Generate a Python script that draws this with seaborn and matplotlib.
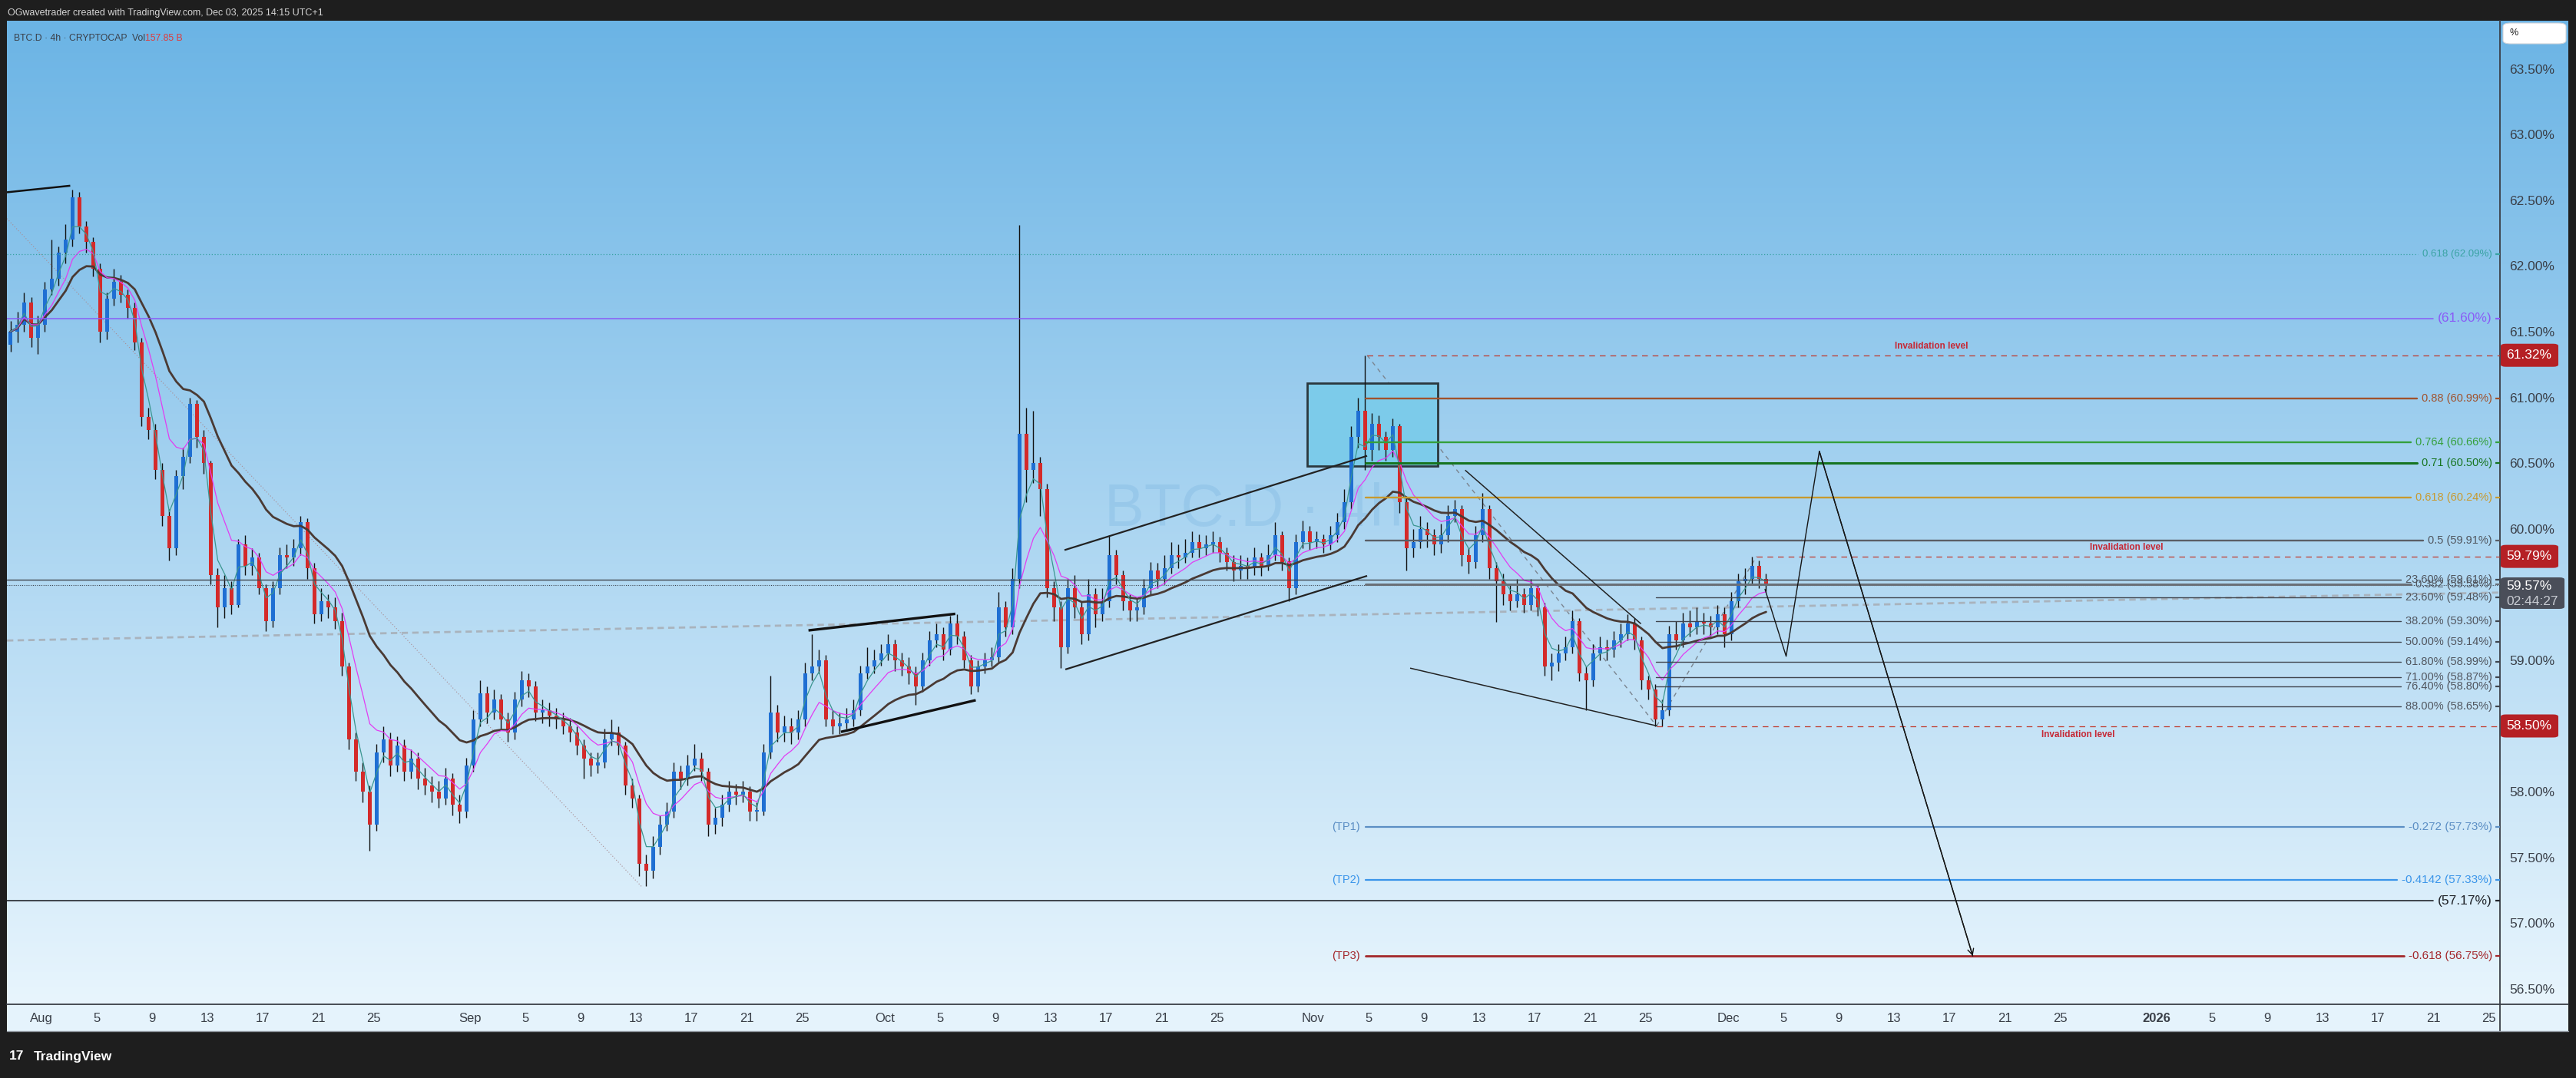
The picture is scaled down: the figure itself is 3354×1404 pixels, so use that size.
import numpy as np
import pandas as pd
import matplotlib
matplotlib.use("Agg")
import matplotlib.pyplot as plt
import seaborn as sns
from matplotlib.patches import Rectangle, FancyBboxPatch
from matplotlib.lines import Line2D

sns.set_theme(style="white")
plt.rcParams['font.family'] = ['Liberation Sans', 'DejaVu Sans']

# ------------------------------------------------------------------ data
AUG1 = pd.Timestamp("2025-08-01")
candle_start = "2025-07-29 12:00"      # 12h candles
first_open = 61.40
closes = [
    61.50, 61.55, 61.72, 61.45, 61.55, 61.82, 61.90, 62.10, 62.20, 62.52,
    62.30, 62.18, 61.98, 61.50, 61.75, 61.88, 61.78, 61.68, 61.42, 60.85,
    60.75, 60.45, 60.10, 59.85, 60.40, 60.55, 60.95, 60.70, 60.50, 59.65,
    59.40, 59.55, 59.42, 59.88, 59.72, 59.78, 59.55, 59.30, 59.55, 59.80,
    59.78, 59.85, 60.05, 59.70, 59.35, 59.45, 59.40, 59.30, 58.95, 58.40,
    58.15, 58.00, 57.75, 58.30, 58.40, 58.20, 58.35, 58.15, 58.25, 58.10,
    58.05, 58.00, 57.95, 58.10, 57.90, 57.85, 58.20, 58.55, 58.75, 58.60,
    58.70, 58.55, 58.45, 58.70, 58.85, 58.80, 58.60, 58.62, 58.58, 58.55,
    58.50, 58.45, 58.35, 58.25, 58.20, 58.22, 58.40, 58.45, 58.35, 58.05,
    57.95, 57.45, 57.40, 57.58, 57.75, 57.85, 58.15, 58.10, 58.20, 58.25,
    58.15, 57.75, 57.80, 57.90, 58.00, 57.98, 58.00, 57.85, 57.85, 58.30,
    58.60, 58.45, 58.50, 58.45, 58.55, 58.90, 58.95, 59.00, 58.55, 58.50,
    58.52, 58.55, 58.62, 58.90, 58.95, 59.00, 59.05, 59.12, 59.00, 58.95,
    58.90, 58.80, 59.00, 59.15, 59.20, 59.08, 59.28, 59.18, 59.00, 58.80,
    58.95, 59.00, 59.02, 59.40, 59.25, 59.62, 60.72, 60.45, 60.50, 60.30,
    59.55, 59.40, 59.10, 59.55, 59.40, 59.20, 59.50, 59.35, 59.45, 59.80,
    59.65, 59.45, 59.38, 59.40, 59.55, 59.68, 59.62, 59.70, 59.80, 59.78,
    59.82, 59.90, 59.85, 59.88, 59.90, 59.82, 59.75, 59.68, 59.72, 59.70,
    59.78, 59.72, 59.80, 59.95, 59.75, 59.55, 59.90, 59.98, 59.90, 59.92,
    59.88, 59.95, 60.05, 60.20, 60.70, 60.90, 60.60, 60.80, 60.70, 60.60,
    60.78, 60.20, 59.85, 59.90, 60.00, 59.95, 59.88, 59.95, 60.10, 60.15,
    59.80, 59.75, 59.95, 60.15, 59.70, 59.60, 59.50, 59.45, 59.50, 59.42,
    59.55, 59.40, 58.95, 58.98, 59.05, 59.10, 59.30, 58.90, 58.85, 59.05,
    59.10, 59.08, 59.15, 59.20, 59.28, 59.15, 58.85, 58.78, 58.55, 58.62,
    59.20, 59.15, 59.28, 59.25, 59.30, 59.28, 59.25, 59.35, 59.20, 59.45,
    59.60, 59.62, 59.72, 59.62, 59.57,
]
highs = [
    61.58, 61.65, 61.80, 61.76, 61.62, 61.88, 62.20, 62.15, 62.32, 62.58,
    62.56, 62.34, 62.22, 62.02, 61.80, 61.98, 61.93, 61.82, 61.72, 61.45,
    60.92, 60.80, 60.50, 60.15, 60.45, 60.62, 61.00, 60.98, 60.75, 60.52,
    59.70, 59.65, 59.60, 59.92, 59.95, 59.85, 59.82, 59.58, 59.60, 59.86,
    59.88, 59.92, 60.10, 60.08, 59.74, 59.55, 59.50, 59.48, 59.36, 58.98,
    58.45, 58.22, 58.05, 58.36, 58.50, 58.45, 58.42, 58.40, 58.32, 58.30,
    58.18, 58.12, 58.08, 58.18, 58.14, 57.98, 58.26, 58.62, 58.85, 58.80,
    58.78, 58.74, 58.60, 58.76, 58.92, 58.90, 58.84, 58.70, 58.68, 58.64,
    58.60, 58.56, 58.50, 58.40, 58.30, 58.30, 58.48, 58.55, 58.50, 58.38,
    58.10, 57.98, 57.52, 57.66, 57.82, 57.92, 58.22, 58.20, 58.28, 58.36,
    58.30, 58.18, 57.88, 57.98, 58.08, 58.06, 58.08, 58.04, 57.92, 58.36,
    58.88, 58.66, 58.58, 58.56, 58.62, 58.98, 59.20, 59.08, 59.04, 58.62,
    58.60, 58.64, 58.70, 58.96, 59.10, 59.08, 59.12, 59.20, 59.16, 59.06,
    59.02, 58.95, 59.06, 59.22, 59.28, 59.25, 59.34, 59.35, 59.22, 59.04,
    59.00, 59.06, 59.10, 59.52, 59.45, 59.70, 62.31, 60.92, 60.90, 60.55,
    60.34, 59.60, 59.45, 59.62, 59.65, 59.45, 59.62, 59.55, 59.55, 59.95,
    59.84, 59.68, 59.50, 59.48, 59.62, 59.75, 59.74, 59.80, 59.90, 59.88,
    59.92, 59.98, 59.96, 59.95, 59.98, 59.94, 59.86, 59.80, 59.80, 59.78,
    59.86, 59.82, 59.88, 60.05, 59.98, 59.78, 59.96, 60.06, 60.02, 59.98,
    59.96, 60.02, 60.12, 60.30, 60.78, 61.00, 61.32, 60.88, 60.86, 60.74,
    60.84, 60.80, 60.25, 60.00, 60.10, 60.05, 60.00, 60.04, 60.18, 60.22,
    60.18, 59.85, 60.02, 60.27, 60.18, 59.75, 59.66, 59.58, 59.62, 59.55,
    59.62, 59.58, 59.44, 59.05, 59.12, 59.18, 59.38, 59.32, 58.95, 59.12,
    59.18, 59.16, 59.22, 59.28, 59.35, 59.32, 59.18, 58.88, 58.82, 58.70,
    59.26, 59.30, 59.36, 59.38, 59.40, 59.36, 59.34, 59.42, 59.40, 59.52,
    59.66, 59.70, 59.79, 59.76, 59.66,
]
lows = [
    61.35, 61.42, 61.50, 61.38, 61.33, 61.50, 61.78, 61.85, 62.02, 62.15,
    62.25, 62.10, 61.92, 61.42, 61.44, 61.70, 61.72, 61.60, 61.36, 60.78,
    60.68, 60.38, 60.02, 59.76, 59.80, 60.30, 60.50, 60.62, 60.42, 59.58,
    59.25, 59.32, 59.35, 59.40, 59.65, 59.65, 59.50, 59.22, 59.25, 59.50,
    59.70, 59.72, 59.80, 59.62, 59.28, 59.30, 59.32, 59.24, 58.88, 58.32,
    58.08, 57.92, 57.55, 57.70, 58.22, 58.12, 58.15, 58.08, 58.10, 58.02,
    57.98, 57.92, 57.88, 57.90, 57.82, 57.76, 57.80, 58.15, 58.50, 58.52,
    58.55, 58.48, 58.38, 58.40, 58.65, 58.72, 58.54, 58.52, 58.50, 58.48,
    58.44, 58.38, 58.28, 58.10, 58.12, 58.14, 58.18, 58.35, 58.28, 57.98,
    57.88, 57.36, 57.28, 57.34, 57.52, 57.70, 57.80, 58.02, 58.05, 58.16,
    58.08, 57.66, 57.68, 57.74, 57.85, 57.90, 57.92, 57.78, 57.78, 57.82,
    58.25, 58.38, 58.38, 58.36, 58.40, 58.50, 58.85, 58.90, 58.50, 58.44,
    58.44, 58.48, 58.50, 58.58, 58.86, 58.90, 58.96, 59.00, 58.92, 58.88,
    58.82, 58.66, 58.76, 58.96, 59.10, 59.00, 59.04, 59.12, 58.94, 58.74,
    58.76, 58.90, 58.95, 58.98, 59.18, 59.20, 59.55, 60.20, 60.35, 60.10,
    59.48, 59.30, 58.94, 59.05, 59.32, 59.12, 59.15, 59.25, 59.30, 59.40,
    59.58, 59.38, 59.30, 59.30, 59.35, 59.50, 59.55, 59.58, 59.66, 59.70,
    59.74, 59.78, 59.78, 59.80, 59.82, 59.75, 59.68, 59.60, 59.62, 59.62,
    59.65, 59.64, 59.68, 59.76, 59.68, 59.45, 59.50, 59.85, 59.84, 59.85,
    59.82, 59.84, 59.90, 60.00, 60.15, 60.62, 60.45, 60.52, 60.60, 60.52,
    60.55, 60.12, 59.68, 59.78, 59.85, 59.86, 59.80, 59.82, 59.90, 60.05,
    59.72, 59.66, 59.70, 59.90, 59.62, 59.29, 59.42, 59.38, 59.40, 59.36,
    59.38, 59.34, 58.88, 58.85, 58.92, 59.00, 59.05, 58.84, 58.62, 58.80,
    59.00, 59.00, 59.02, 59.10, 59.15, 59.08, 58.78, 58.70, 58.50, 58.50,
    58.58, 59.08, 59.10, 59.18, 59.20, 59.20, 59.18, 59.20, 59.10, 59.15,
    59.40, 59.50, 59.58, 59.55, 59.52,
]

tick_dates = [
    "2025-08-01", "2025-08-05", "2025-08-09", "2025-08-13", "2025-08-17", "2025-08-21", "2025-08-25",
    "2025-09-01", "2025-09-05", "2025-09-09", "2025-09-13", "2025-09-17", "2025-09-21", "2025-09-25",
    "2025-10-01", "2025-10-05", "2025-10-09", "2025-10-13", "2025-10-17", "2025-10-21", "2025-10-25",
    "2025-11-01", "2025-11-05", "2025-11-09", "2025-11-13", "2025-11-17", "2025-11-21", "2025-11-25",
    "2025-12-01", "2025-12-05", "2025-12-09", "2025-12-13", "2025-12-17", "2025-12-21", "2025-12-25",
    "2026-01-01", "2026-01-05", "2026-01-09", "2026-01-13", "2026-01-17", "2026-01-21", "2026-01-25",
]
tick_labels = [
    "Aug", "5", "9", "13", "17", "21", "25",
    "Sep", "5", "9", "13", "17", "21", "25",
    "Oct", "5", "9", "13", "17", "21", "25",
    "Nov", "5", "9", "13", "17", "21", "25",
    "Dec", "5", "9", "13", "17", "21", "25",
    "2026", "5", "9", "13", "17", "21", "25",
]
price_ticks = [63.5, 63.0, 62.5, 62.0, 61.5, 61.0, 60.5, 60.0, 59.0, 58.0, 57.5, 57.0, 56.5]

fib_high_levels = [60.99, 60.66, 60.50, 60.24, 59.91, 59.58]
fib_high_labels = ["0.88 (60.99%)", "0.764 (60.66%)", "0.71 (60.50%)",
                   "0.618 (60.24%)", "0.5 (59.91%)", "0.382 (59.58%)"]
fib_low_levels = [59.48, 59.30, 59.14, 58.99, 58.87, 58.80, 58.65]
fib_low_labels = ["23.60% (59.48%)", "38.20% (59.30%)", "50.00% (59.14%)", "61.80% (58.99%)",
                  "71.00% (58.87%)", "76.40% (58.80%)", "88.00% (58.65%)"]
prior_fib_level, prior_fib_label = 59.61, "23.60% (59.61%)"
ext_level, ext_label = 62.09, "0.618 (62.09%)"
key_level, key_label = 61.60, "(61.60%)"
support_level, support_label = 57.17, "(57.17%)"
tp_levels = [57.73, 57.33, 56.75]
tp_names = ["(TP1)", "(TP2)", "(TP3)"]
tp_labels = ["-0.272 (57.73%)", "-0.4142 (57.33%)", "-0.618 (56.75%)"]
invalid_levels = [61.32, 59.79, 58.50]
invalid_start = [95.89, 124.06, 116.83]          # days since Aug 1
last_price = 59.57
countdown = "02:44:27"

# drawings: (days since Aug 1, price)
aug_top = [(-2.5, 62.56), (2.08, 62.61)]
aug_diag = [(-2.5, 62.36), (43.39, 57.28)]
flag_upper = [(55.48, 59.227), (66.1, 59.353)]
flag_lower = [(57.83, 58.455), (67.58, 58.696)]
chan_upper = [(74.0, 59.838), (95.89, 60.555)]
chan_lower = [(74.06, 58.93), (95.89, 59.642)]
wedge_upper = [(102.98, 60.446), (115.7, 59.277)]
wedge_lower = [(99.0, 58.94), (116.87, 58.50)]
swing_down = [(95.89, 61.32), (116.83, 58.50)]
swing_up = [(116.83, 58.50), (124.06, 59.79)]
trend_dashed = [(-2.5, 59.15), (177.83, 59.515)]
projection = [(124.67, 59.54), (126.2, 59.03), (128.6, 60.59), (139.7, 56.75)]
zone_box = (91.54, 60.48, 101.02, 61.11)
fib_high_start = 95.78
fib_low_start = 116.78
tp_start = 95.8

# ------------------------------------------------------------------ layout
W, H = 3355, 1404
PL, PT, PR, PB = 9, 27, 3255, 1308
AR, TB = 3344, 1343
fig = plt.figure(figsize=(W / 100, H / 100), dpi=100, facecolor='#1e1e1e')


def rect(l, t, r, b):
    return [l / W, 1 - b / H, (r - l) / W, (b - t) / H]


def py(p):       # price -> figure pixel y (from top)
    return 89.5 + (63.5 - p) * 171.2


bg = fig.add_axes(rect(PL, PT, AR, PB), zorder=0)
g = np.linspace(0, 1, 400)[:, None, None]
c_top = np.array([107, 180, 229]) / 255
c_bot = np.array([232, 245, 253]) / 255
img = c_top * (1 - g) + c_bot * g
bg.imshow(img, aspect='auto', extent=[0, 1, 0, 1], origin='upper')
bg.axis('off')

tax = fig.add_axes(rect(PL, PB, AR, TB), zorder=0)
tax.set_facecolor('#e5f3fc')
tax.set_xticks([]); tax.set_yticks([])
for s in tax.spines.values():
    s.set_visible(False)

ax = fig.add_axes(rect(PL, PT, PR, PB), zorder=2)
ax.patch.set_alpha(0)
XL, XR = (PL - 54) / 18, (PR - 54) / 18
YB, YT = 63.5 - (PB - 89.5) / 171.2, 63.5 + (89.5 - PT) / 171.2

# ------------------------------------------------------------------ candles
t = pd.date_range(candle_start, periods=len(closes), freq='12h')
x = np.asarray((t - AUG1) / pd.Timedelta(days=1)) + 0.25
c = np.array(closes); hi = np.array(highs); lo = np.array(lows)
o = np.r_[first_open, c[:-1]]
up = c >= o
ax.vlines(x, lo, hi, color='#111111', lw=1.0, zorder=3)
bh = np.maximum(np.abs(c - o), 0.012)
ax.bar(x[up], bh[up], bottom=o[up], width=0.28, color='#1f6fd3', lw=0, zorder=3.5)
ax.bar(x[~up], bh[~up], bottom=c[~up], width=0.28, color='#d42a2a', lw=0, zorder=3.5)

s = pd.Series(c)
ma = pd.DataFrame({'x': x,
                   'fast': s.ewm(span=3).mean(),
                   'mid': s.ewm(span=8).mean(),
                   'slow': s.ewm(span=21).mean()})
sns.lineplot(data=ma, x='x', y='slow', ax=ax, color='#4a3a34', lw=2.0, zorder=4, legend=False)
sns.lineplot(data=ma, x='x', y='mid', ax=ax, color='#e23cf2', lw=0.9, zorder=4, legend=False)
sns.lineplot(data=ma, x='x', y='fast', ax=ax, color='#3b9690', lw=0.9, zorder=4, legend=False)

# ------------------------------------------------------------------ zone box & watermark
bx0, by0, bx1, by1 = zone_box
ax.add_patch(Rectangle((bx0, by0), bx1 - bx0, by1 - by0, fc='#7ccbea', ec='#2b383e',
                       lw=2.0, zorder=2.5))
ax.text(87.7, 60.14, "BTC.D · 4h", fontsize=56, color='#3d8ccc', alpha=0.14,
        ha='center', va='center', zorder=1)


def seg(pts, **kw):
    xs, ys = zip(*pts)
    ax.plot(xs, ys, solid_capstyle='butt', **kw)


seg(aug_top, color='#111', lw=1.8, zorder=5)
seg(aug_diag, color='#a98a90', lw=0.8, ls=(0, (1, 2.2)), zorder=2)
seg(flag_upper, color='#111', lw=2.4, zorder=5)
seg(flag_lower, color='#111', lw=2.4, zorder=5)
seg(chan_upper, color='#222', lw=1.6, zorder=5)
seg(chan_lower, color='#222', lw=1.6, zorder=5)
seg(wedge_upper, color='#222', lw=1.1, zorder=5)
seg(wedge_lower, color='#222', lw=1.1, zorder=5)
seg(swing_down, color='#7b8590', lw=1.0, ls=(0, (4, 4)), zorder=2)
seg(swing_up, color='#7b8590', lw=1.0, ls=(0, (4, 4)), zorder=2)
seg(trend_dashed, color='#a9b3bd', lw=2.0, ls=(0, (3, 2)), zorder=2)
proj_df = pd.DataFrame(projection, columns=['d', 'p'])
sns.lineplot(data=proj_df, x='d', y='p', ax=ax, color='#151515', lw=1.0, sort=False,
             estimator=None, zorder=6, legend=False)
ax.annotate('', xy=projection[-1], xytext=projection[-2],
            arrowprops=dict(arrowstyle='->', color='#151515', lw=1.0, mutation_scale=14,
                            shrinkA=0, shrinkB=0), zorder=6)

# current price dotted line
ax.axhline(last_price, color='#3c414b', lw=0.8, ls=(0, (1, 1.5)), zorder=2)

# invalidation dashed lines
for lvl, st in zip(invalid_levels, invalid_start):
    ax.plot([st, XR], [lvl, lvl], color='#c0392b', lw=0.9, ls=(0, (6, 5)), zorder=4)
inv_txt = [(136.7, 61.32, 'bottom'), (150.8, 59.79, 'bottom'), (147.3, 58.50, 'top')]
for xd, lvl, va in inv_txt:
    off = 0.035 if va == 'bottom' else -0.03
    ax.text(xd, lvl + off, "Invalidation level", color='#c62835', fontsize=8.5,
            fontweight='bold', ha='center', va=va, zorder=6)

# ------------------------------------------------------------------ right-labelled levels
LABEL_X = (3245 - 54) / 18
items = []   # (level, text, line color, text color, start, lw, ls, fs)
items.append((ext_level, ext_label, '#3aa3a3', '#3aa3a3', XL, 0.9, (0, (1, 2)), 9.5))
items.append((key_level, key_label, '#8a5cf6', '#8a5cf6', XL, 1.1, '-', 12.5))
fh_colors = ['#a0522d', '#35a03c', '#16741f', '#c89a2e', '#5a5e66', '#6a6f77']
fh_lw = [1.7, 1.7, 2.2, 1.7, 1.7, 2.2]
for lvl, lab, col, lw in zip(fib_high_levels, fib_high_labels, fh_colors, fh_lw):
    tc = col if col not in ('#5a5e66', '#6a6f77') else '#50555e'
    items.append((lvl, lab, col, tc, fib_high_start, lw, '-', 10.5))
items.append((prior_fib_level, prior_fib_label, '#40454e', '#50555e', XL, 1.0, '-', 10.5))
for lvl, lab in zip(fib_low_levels, fib_low_labels):
    items.append((lvl, lab, '#40454e', '#50555e', fib_low_start, 1.0, '-', 10.5))
tp_colors = ['#5b8ec4', '#3a95ea', '#a3262a']
tp_lw = [1.6, 1.6, 2.0]
for lvl, lab, col, lw in zip(tp_levels, tp_labels, tp_colors, tp_lw):
    items.append((lvl, lab, col, col, tp_start, lw, '-', 11))
items.append((support_level, support_label, '#23262d', '#1e2127', XL, 1.2, '-', 12.5))

texts = []
for lvl, lab, lc, tc, st, lw, ls, fs in items:
    texts.append(ax.text(LABEL_X, lvl, lab, color=tc, fontsize=fs, ha='right', va='center',
                         zorder=6))
for lvl, name, col in zip(tp_levels, tp_names, tp_colors):
    ax.text((1771 - 54) / 18, lvl, name, color=col, fontsize=10.5, ha='right', va='center',
            zorder=6)

ax.set_xlim(XL, XR)
ax.set_ylim(YB, YT)
fig.canvas.draw()
rend = fig.canvas.get_renderer()
inv = ax.transData.inverted()
for (lvl, lab, lc, tc, st, lw, ls, fs), tx in zip(items, texts):
    bb = tx.get_window_extent(rend)
    xend = inv.transform((bb.x0 - 6, 0))[0]
    ax.plot([st, xend], [lvl, lvl], color=lc, lw=lw, ls=ls, zorder=4.5)
    ax.plot([(3249 - 54) / 18, XR], [lvl, lvl], color=lc, lw=1.6, zorder=4.5,
            solid_capstyle='butt', clip_on=False)

# ------------------------------------------------------------------ axes styling
ax.set_xlim(XL, XR)
ax.set_ylim(YB, YT)
ax.set_xlabel(''); ax.set_ylabel('')
ax.yaxis.tick_right()
ax.set_yticks(price_ticks)
ax.set_yticklabels([f"{p:.2f}%" for p in price_ticks])
ax.tick_params(axis='y', length=0, pad=9, labelsize=12.5, labelcolor='#3a3f48')
tick_days = [(pd.Timestamp(d) - AUG1) / pd.Timedelta(days=1) for d in tick_dates]
ax.set_xticks(tick_days)
ax.set_xticklabels(tick_labels)
ax.tick_params(axis='x', length=0, pad=8, labelsize=12, labelcolor='#3a3f48')
for lab in ax.get_xticklabels():
    if lab.get_text() == '2026':
        lab.set_fontweight('bold')
for side in ['top', 'left']:
    ax.spines[side].set_visible(False)
for side in ['right', 'bottom']:
    ax.spines[side].set_color('#3a3e46')
    ax.spines[side].set_linewidth(1.3)
ax.grid(False)

# divider lines through the time axis & frame
fig.add_artist(Line2D([PR / W, PR / W], [1 - TB / H, 1 - PB / H], color='#3a3e46', lw=1.3))
fig.add_artist(Line2D([PR / W, AR / W], [1 - PB / H, 1 - PB / H], color='#3a3e46', lw=1.3))
fig.add_artist(Line2D([PL / W, AR / W], [1 - TB / H, 1 - TB / H], color='#8d949c', lw=1.0))

# ------------------------------------------------------------------ price tags
def tag(price, text, fc, x1=3331, h=30):
    yc = py(price)
    fig.add_artist(FancyBboxPatch(((PR + 1) / W, 1 - (yc + h / 2) / H), (x1 - PR - 1) / W, h / H,
                                  boxstyle='round,pad=0,rounding_size=0.002', fc=fc, ec='none',
                                  transform=fig.transFigure, zorder=10))
    fig.text(3263 / W, 1 - yc / H, text, color='white', fontsize=12.5, ha='left', va='center',
             zorder=11)


for lvl in invalid_levels:
    tag(lvl, f"{lvl:.2f}%", '#b52025')
fig.add_artist(FancyBboxPatch(((PR + 1) / W, 1 - 793 / H), (3339 - PR - 1) / W, 41 / H,
                              boxstyle='round,pad=0,rounding_size=0.002', fc='#4a4e59', ec='none',
                              transform=fig.transFigure, zorder=10))
fig.text(3263 / W, 1 - 763 / H, f"{last_price:.2f}%", color='white', fontsize=12.5,
         va='center', zorder=11)
fig.text(3263 / W, 1 - 783 / H, countdown, color='#c9ccd3', fontsize=12.5, va='center', zorder=11)

# "%" button
fig.add_artist(FancyBboxPatch((3259 / W, 1 - 57 / H), 82 / W, 27 / H,
                              boxstyle='round,pad=0,rounding_size=0.003', fc='white', ec='#d0d4da',
                              lw=0.8, transform=fig.transFigure, zorder=10))
fig.text(3268 / W, 1 - 43 / H, "%", color='#1e1e1e', fontsize=9, va='center', zorder=11)

# ------------------------------------------------------------------ header / footer text
fig.text(10 / W, 1 - 17 / H, "OGwavetrader created with TradingView.com, Dec 03, 2025 14:15 UTC+1",
         color='#d6d6d6', fontsize=9, va='center')
t1 = fig.text(18 / W, 1 - 50 / H, "BTC.D · 4h · CRYPTOCAP  Vol", color='#3a3f48', fontsize=8.8,
              va='center', zorder=11)
fig.canvas.draw()
bb = t1.get_window_extent(fig.canvas.get_renderer())
fig.text(bb.x1 / W, 1 - 50 / H, "157.85 B", color='#e03a3a', fontsize=8.8, va='center', zorder=11)
fig.text(12 / W, 1 - 1376 / H, "17", color='white', fontsize=12.5, fontweight='bold', va='center')
fig.text(44 / W, 1 - 1376 / H, "TradingView", color='white', fontsize=12.5, fontweight='bold',
         va='center')

fig.savefig('out.png', dpi=100, facecolor=fig.get_facecolor())
